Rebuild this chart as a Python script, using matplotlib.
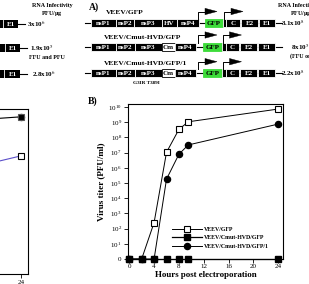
import numpy as np
import matplotlib
matplotlib.use('Agg')
import matplotlib.pyplot as plt
from matplotlib.patches import Rectangle, Polygon

plt.rcParams['font.family'] = ['Liberation Serif', 'DejaVu Serif']
plt.rcParams['mathtext.fontset'] = 'stix'

W, H = 309, 284
DPI = 100

# ---------------- data: panel B ----------------
hours = [0, 2, 4, 6, 8, 9.5, 24]
titer_gfp = [0, 0, 2.5e2, 1.05e7, 3.4e8, 1.07e9, 7.4e9]
titer_cmut = [0, 0, 0, 0, 0, 0, 0]
titer_cmut1 = [0, 0, 0, 1.8e5, 7.9e6, 3.2e7, 7.6e8]
series_names = ['VEEV/GFP', 'VEEV/Cmut-HVD/GFP', 'VEEV/Cmut-HVD/GFP/1']
xtick_vals = [0, 4, 8, 12, 16, 20, 24]
ytick_vals = list(range(0, 11))
ytick_labels = ['0'] + [r'$\mathregular{10^{%d}}$' % i for i in range(1, 11)]

# ---------------- data: cropped left panel ----------------
left_hours = [12, 24]
left_top = [2.5e9, 5.2e9]
left_low = [1.6e6, 2.0e7]
left_legend_tail = ['VEEV/Cmut-HVD/GFP', 'VEEV/Cmut-HVD/GFP/1']

# ---------------- data: schematic ----------------
construct_names = ['VEEV/GFP', 'VEEV/Cmut-HVD/GFP', 'VEEV/Cmut-HVD/GFP/1']
construct_genes = [
    ['nsP1', 'nsP2', 'nsP3', 'HV', 'nsP4', 'GFP', '', 'C', 'E2', 'E1'],
    ['nsP1', 'nsP2', 'nsP3', 'Cm', 'nsP4', 'GFP', '', 'C', 'E2', 'E1'],
    ['nsP1', 'nsP2', 'nsP3', 'Cm', 'nsP4', 'GFP', '', 'C', 'E2', 'E1'],
]
infectivity_right = [r'3.1x10$^{8}$', r'8x10$^{5}$', r'2.2x10$^{8}$']
infectivity_left = [r'3x10$^{6}$', r'1.9x10$^{5}$', r'2.8x10$^{6}$']
mutation_note = 'G3IR T389I'


def to_log(v):
    v = np.asarray(v, dtype=float)
    out = np.zeros_like(v)
    pos = v > 0
    out[pos] = np.log10(v[pos])
    return out


fig = plt.figure(figsize=(W / DPI, H / DPI), dpi=DPI)

# pixel overlay axes for schematic / texts
ax0 = fig.add_axes([0, 0, 1, 1])
ax0.set_xlim(0, W)
ax0.set_ylim(H, 0)
ax0.axis('off')

bold = dict(fontweight='bold', color='black')

# layout for schematic rows
row_y = [23, 47, 73]
box_h = 8
edges = [
    [(91, 116), (116, 134), (134, 162), (162, 177), (177, 199), (205, 223), (223, 226), (226, 240), (241, 258), (259, 275)],
    [(91, 116), (116, 135), (135, 162), (162, 175), (175, 196), (203, 221.5), (221.5, 225.5), (225.5, 238.5), (240, 257), (258, 275)],
    [(91, 116), (116, 135), (135, 162), (162, 175), (175, 196), (203, 221.5), (221.5, 225.5), (225.5, 238.5), (240, 257), (258, 275)],
]
label_xy = [(106, 13), (104, 37.5), (104, 63.5)]
arrow_y = [11.5, 35, 61.7]
GREEN = '#3ddc3a'

for r in range(3):
    yc = row_y[r]
    segs = edges[r]
    ax0.plot([85, 282], [yc, yc], color='black', lw=0.8, zorder=1)
    for (x0, x1), g in zip(segs, construct_genes[r]):
        if g == 'GFP':
            fc, ec, tc = GREEN, GREEN, 'black'
        elif g == 'Cm':
            fc, ec, tc = 'white', 'black', 'black'
        else:
            fc, ec, tc = 'black', 'white', 'white'
        ax0.add_patch(Rectangle((x0, yc - box_h / 2), x1 - x0, box_h, facecolor=fc,
                                edgecolor=ec, lw=0.6, zorder=2))
        if g:
            ax0.text((x0 + x1) / 2, yc + 0.3, g, ha='center', va='center', fontsize=5.0,
                     fontweight='bold', color=tc, zorder=3)
    ax0.text(label_xy[r][0], label_xy[r][1], construct_names[r], ha='left', va='center',
             fontsize=5.4, **bold)
    # promoter arrows
    for xv in (198, segs[6][0] + 1):
        ya = arrow_y[r]
        ax0.plot([xv, xv, xv + 7], [yc - box_h / 2, ya, ya], color='black', lw=0.7, zorder=3)
        ax0.add_patch(Polygon([(xv + 7, ya - 3.2), (xv + 19, ya), (xv + 7, ya + 3.2)],
                              closed=True, facecolor='black', edgecolor='black', lw=0.3, zorder=3))
    ax0.text(281 + (10 if r == 1 else 0), yc + 0.5, infectivity_right[r], ha='left', va='center',
             fontsize=5.0, **bold)

ax0.text(290, 56, '(FFU only)', ha='left', va='center', fontsize=4.3, **bold)
ax0.text(278, 5, 'RNA Infectivity', ha='left', va='center', fontsize=4.3, **bold)
ax0.text(290, 13, r'PFU/$\mathbf{\mu}$g', ha='left', va='center', fontsize=4.3, **bold)
ax0.text(146.5, 83.5, mutation_note, ha='center', va='center', fontsize=3.8, **bold)
ax0.text(89, 7, 'A)', ha='left', va='center', fontsize=7, **bold)
ax0.text(88, 101, 'B)', ha='left', va='center', fontsize=7, **bold)

# cropped left schematic pieces
left_rows = [(24, 18.3, 3, 25), (48, 20, 5, 27), (74, 20, 4, 27)]
for (yc, xe, sep, xl), txt, tx in zip(left_rows, infectivity_left, [27, 30, 31.5]):
    ax0.plot([0, xl], [yc, yc], color='black', lw=0.8, zorder=1)
    ax0.add_patch(Rectangle((-5, yc - box_h / 2), xe + 5, box_h, facecolor='black', edgecolor='none', zorder=2))
    ax0.plot([sep, sep], [yc - box_h / 2, yc + box_h / 2], color='white', lw=0.6, zorder=3)
    ax0.text((sep + xe) / 2 + 0.5, yc + 0.3, 'E1', ha='center', va='center', fontsize=5.0,
             fontweight='bold', color='white', zorder=3)
    ax0.text(tx, yc + 0.5, txt, ha='left', va='center', fontsize=5.0, **bold)
ax0.text(52, 5, 'RNA Infectivity', ha='center', va='center', fontsize=4.3, **bold)
ax0.text(52, 13, r'PFU/$\mathbf{\mu}$g', ha='center', va='center', fontsize=4.3, **bold)
ax0.text(46.5, 57.5, 'FFU and PFU', ha='center', va='center', fontsize=4.3, **bold)

# ---------------- cropped left plot ----------------
axL = fig.add_axes([-129.7 / W, 1 - 274 / H, 158 / W, 165 / H])
axL.set_xlim(-0.3, 25.2)
axL.set_ylim(0, 10.2)
axL.plot(left_hours, to_log(left_top), color='black', lw=0.8, marker='o', ms=4.3,
         mfc='black', mec='black', clip_on=False, zorder=3)
axL.plot(left_hours[-1:], to_log(left_top)[-1:], ls='none', marker='s', ms=4.6,
         mfc='none', mec='#555555', mew=0.8, clip_on=False, zorder=4)
axL.plot(left_hours, to_log(left_low), color='#5b4fc9', lw=0.8, marker='s', ms=4.3,
         mfc='white', mec='black', mew=0.8, clip_on=False, zorder=3)
axL.set_xticks([24])
axL.set_xticklabels(['24'], fontsize=5)
axL.set_yticks([])
axL.tick_params(axis='x', direction='out', length=3, width=0.6, pad=1)
for s in axL.spines.values():
    s.set_linewidth(0.8)
ax0.text(8.3, 254.5, left_legend_tail[0], ha='right', va='center', fontsize=4.2, **bold)
ax0.text(16.7, 266.5, left_legend_tail[1], ha='right', va='center', fontsize=4.2, **bold)

# ---------------- panel B ----------------
ax = fig.add_axes([128 / W, 1 - 259 / H, 155 / W, 155 / H])
ax.set_xlim(-0.2, 24.75)
ax.set_ylim(0, 10.2)
ms = 4.4
ax.plot(hours, to_log(titer_cmut1), color='black', lw=0.7, marker='o', ms=ms,
        mfc='black', mec='black', clip_on=False, zorder=3, label=series_names[2])
ax.plot(hours, to_log(titer_gfp), color='black', lw=0.7, marker='s', ms=ms,
        mfc='white', mec='black', mew=0.8, clip_on=False, zorder=4, label=series_names[0])
ax.plot(hours, to_log(titer_cmut), color='black', lw=0.9, marker='s', ms=ms,
        mfc='black', mec='black', clip_on=False, zorder=5, label=series_names[1])
handles, labels = ax.get_legend_handles_labels()
order = [1, 2, 0]
leg = ax.legend([handles[i] for i in order], [labels[i] for i in order],
                loc='lower left', bbox_to_anchor=(0.255, 0.04), frameon=False,
                handlelength=5.2, handletextpad=0.3, labelspacing=0.6,
                prop=dict(family='Liberation Serif', weight='bold', size=4.2), borderpad=0.2)

ax.set_xticks(xtick_vals)
ax.set_xticklabels([str(v) for v in xtick_vals], fontsize=5)
ax.set_yticks(ytick_vals)
ax.set_yticklabels(ytick_labels, fontsize=5)
ax.tick_params(direction='out', length=3, width=0.6, pad=1.5)
ax.tick_params(axis='x', pad=0.8)
for s in ax.spines.values():
    s.set_linewidth(0.8)
ax.set_xlabel('Hours post electroporation', fontsize=6.4, fontweight='bold', labelpad=1)
ax.set_ylabel('Virus titer (PFU/ml)', fontsize=6.6, fontweight='bold', labelpad=2)

fig.savefig('out.png', dpi=DPI)
